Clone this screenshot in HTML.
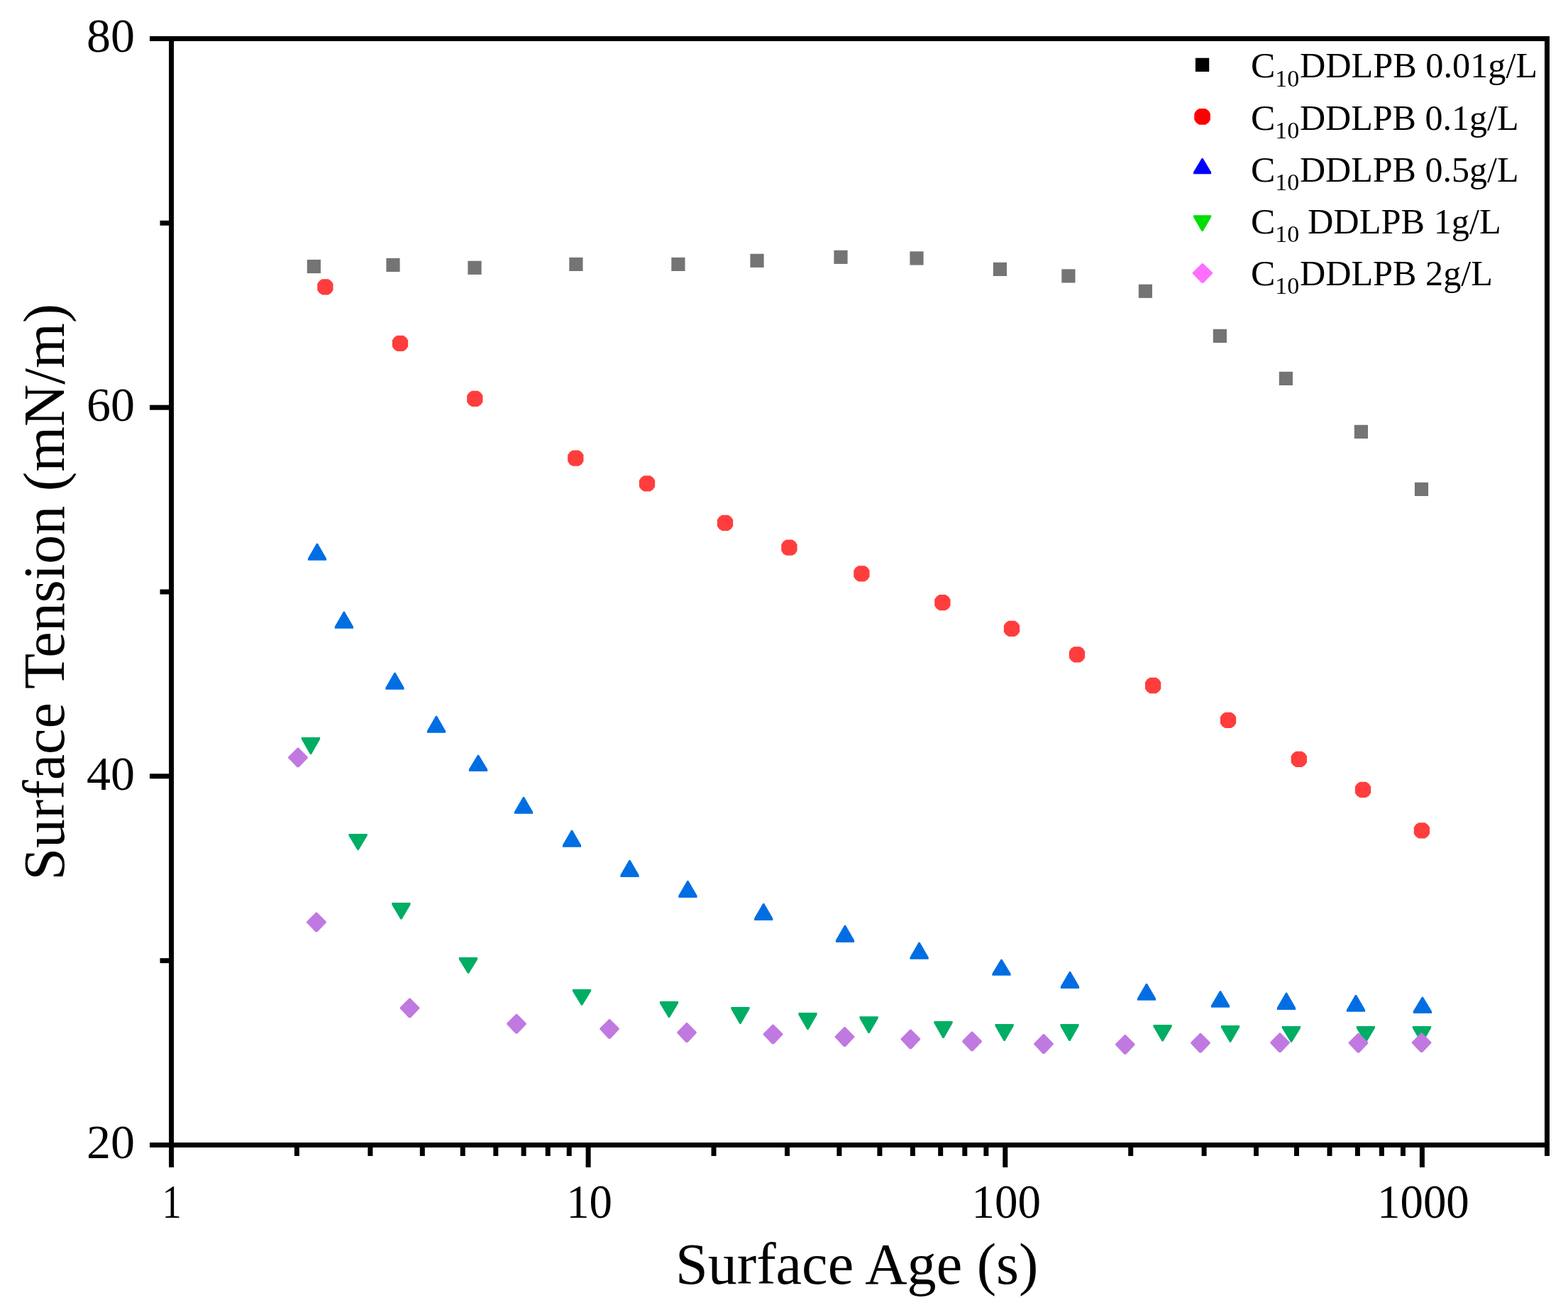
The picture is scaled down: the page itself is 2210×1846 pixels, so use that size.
<!DOCTYPE html>
<html><head><meta charset="utf-8"><title>Surface Tension vs Surface Age</title>
<style>html,body{margin:0;padding:0;background:#fff;}svg{display:block;}</style></head>
<body>
<svg width="2210" height="1846" viewBox="0 0 2210 1846">
<rect width="2210" height="1846" fill="#fff"/>
<g fill="#747474">
<rect x="432.8" y="365.9" width="19.2" height="19.2"/>
<rect x="544.4" y="363.8" width="19.2" height="19.2"/>
<rect x="659.4" y="367.7" width="19.2" height="19.2"/>
<rect x="802.3" y="362.8" width="19.2" height="19.2"/>
<rect x="946.3" y="362.8" width="19.2" height="19.2"/>
<rect x="1057.4" y="357.7" width="19.2" height="19.2"/>
<rect x="1175.4" y="352.7" width="19.2" height="19.2"/>
<rect x="1282.4" y="354.3" width="19.2" height="19.2"/>
<rect x="1399.8" y="369.8" width="19.2" height="19.2"/>
<rect x="1496.3" y="379.3" width="19.2" height="19.2"/>
<rect x="1604.8" y="400.7" width="19.2" height="19.2"/>
<rect x="1709.8" y="463.8" width="19.2" height="19.2"/>
<rect x="1802.8" y="523.8" width="19.2" height="19.2"/>
<rect x="1908.8" y="598.8" width="19.2" height="19.2"/>
<rect x="1993.9" y="679.8" width="19.2" height="19.2"/>
</g>
<g fill="#FF3D3D">
<path d="M462.79 393.25L466.84 395.96L469.55 400.01L469.55 408.79L466.84 412.84L462.79 415.55L454.01 415.55L449.96 412.84L447.25 408.79L447.25 400.01L449.96 395.96L454.01 393.25Z"/>
<path d="M568.39 472.75L572.44 475.46L575.15 479.51L575.15 488.29L572.44 492.34L568.39 495.05L559.61 495.05L555.56 492.34L552.85 488.29L552.85 479.51L555.56 475.46L559.61 472.75Z"/>
<path d="M673.69 550.75L677.74 553.46L680.45 557.51L680.45 566.29L677.74 570.34L673.69 573.05L664.91 573.05L660.86 570.34L658.15 566.29L658.15 557.51L660.86 553.46L664.91 550.75Z"/>
<path d="M815.69 634.55L819.74 637.26L822.45 641.31L822.45 650.09L819.74 654.14L815.69 656.85L806.91 656.85L802.86 654.14L800.15 650.09L800.15 641.31L802.86 637.26L806.91 634.55Z"/>
<path d="M916.39 670.25L920.44 672.96L923.15 677.01L923.15 685.79L920.44 689.84L916.39 692.55L907.61 692.55L903.56 689.84L900.85 685.79L900.85 677.01L903.56 672.96L907.61 670.25Z"/>
<path d="M1026.39 725.75L1030.44 728.46L1033.15 732.51L1033.15 741.29L1030.44 745.34L1026.39 748.05L1017.61 748.05L1013.56 745.34L1010.85 741.29L1010.85 732.51L1013.56 728.46L1017.61 725.75Z"/>
<path d="M1116.79 760.55L1120.84 763.26L1123.55 767.31L1123.55 776.09L1120.84 780.14L1116.79 782.85L1108.01 782.85L1103.96 780.14L1101.25 776.09L1101.25 767.31L1103.96 763.26L1108.01 760.55Z"/>
<path d="M1218.79 797.15L1222.84 799.86L1225.55 803.91L1225.55 812.69L1222.84 816.74L1218.79 819.45L1210.01 819.45L1205.96 816.74L1203.25 812.69L1203.25 803.91L1205.96 799.86L1210.01 797.15Z"/>
<path d="M1332.79 837.95L1336.84 840.66L1339.55 844.71L1339.55 853.49L1336.84 857.54L1332.79 860.25L1324.01 860.25L1319.96 857.54L1317.25 853.49L1317.25 844.71L1319.96 840.66L1324.01 837.95Z"/>
<path d="M1430.39 874.75L1434.44 877.46L1437.15 881.51L1437.15 890.29L1434.44 894.34L1430.39 897.05L1421.61 897.05L1417.56 894.34L1414.85 890.29L1414.85 881.51L1417.56 877.46L1421.61 874.75Z"/>
<path d="M1522.39 911.15L1526.44 913.86L1529.15 917.91L1529.15 926.69L1526.44 930.74L1522.39 933.45L1513.61 933.45L1509.56 930.74L1506.85 926.69L1506.85 917.91L1509.56 913.86L1513.61 911.15Z"/>
<path d="M1629.49 954.85L1633.54 957.56L1636.25 961.61L1636.25 970.39L1633.54 974.44L1629.49 977.15L1620.71 977.15L1616.66 974.44L1613.95 970.39L1613.95 961.61L1616.66 957.56L1620.71 954.85Z"/>
<path d="M1735.39 1003.75L1739.44 1006.46L1742.15 1010.51L1742.15 1019.29L1739.44 1023.34L1735.39 1026.05L1726.61 1026.05L1722.56 1023.34L1719.85 1019.29L1719.85 1010.51L1722.56 1006.46L1726.61 1003.75Z"/>
<path d="M1835.19 1058.75L1839.24 1061.46L1841.95 1065.51L1841.95 1074.29L1839.24 1078.34L1835.19 1081.05L1826.41 1081.05L1822.36 1078.34L1819.65 1074.29L1819.65 1065.51L1822.36 1061.46L1826.41 1058.75Z"/>
<path d="M1925.39 1101.75L1929.44 1104.46L1932.15 1108.51L1932.15 1117.29L1929.44 1121.34L1925.39 1124.05L1916.61 1124.05L1912.56 1121.34L1909.85 1117.29L1909.85 1108.51L1912.56 1104.46L1916.61 1101.75Z"/>
<path d="M2008.29 1159.25L2012.34 1161.96L2015.05 1166.01L2015.05 1174.79L2012.34 1178.84L2008.29 1181.55L1999.51 1181.55L1995.46 1178.84L1992.75 1174.79L1992.75 1166.01L1995.46 1161.96L1999.51 1159.25Z"/>
</g>
<g fill="#006EE2">
<path d="M446.1 765.8L447.9 765.8L460.1 787L460.1 789.8L433.9 789.8L433.9 787Z"/>
<path d="M484 861.8L485.8 861.8L498 883L498 885.8L471.8 885.8L471.8 883Z"/>
<path d="M555.6 947.8L557.4 947.8L569.6 969L569.6 971.8L543.4 971.8L543.4 969Z"/>
<path d="M614.1 1008.8L615.9 1008.8L628.1 1030L628.1 1032.8L601.9 1032.8L601.9 1030Z"/>
<path d="M673.1 1063.8L674.9 1063.8L687.1 1084.1L687.1 1086.9L660.9 1086.9L660.9 1084.1Z"/>
<path d="M737.1 1123L738.9 1123L751.1 1143.9L751.1 1146.7L724.9 1146.7L724.9 1143.9Z"/>
<path d="M805.1 1169.8L806.9 1169.8L819.1 1191L819.1 1193.8L792.9 1193.8L792.9 1191Z"/>
<path d="M886.6 1211.9L888.4 1211.9L900.6 1233.1L900.6 1235.9L874.4 1235.9L874.4 1233.1Z"/>
<path d="M968.5 1240.9L970.3 1240.9L982.5 1262.1L982.5 1264.9L956.3 1264.9L956.3 1262.1Z"/>
<path d="M1075.3 1273.1L1077.1 1273.1L1089.3 1294.1L1089.3 1296.9L1063.1 1296.9L1063.1 1294.1Z"/>
<path d="M1190.1 1303.7L1191.9 1303.7L1204.1 1325.1L1204.1 1327.9L1177.9 1327.9L1177.9 1325.1Z"/>
<path d="M1294.7 1327.7L1296.5 1327.7L1308.7 1348.9L1308.7 1351.7L1282.5 1351.7L1282.5 1348.9Z"/>
<path d="M1410.6 1351.7L1412.4 1351.7L1424.6 1372L1424.6 1374.8L1398.4 1374.8L1398.4 1372Z"/>
<path d="M1507.1 1369.1L1508.9 1369.1L1521.1 1390.1L1521.1 1392.9L1494.9 1392.9L1494.9 1390.1Z"/>
<path d="M1615.1 1386L1616.9 1386L1629.1 1407L1629.1 1409.8L1602.9 1409.8L1602.9 1407Z"/>
<path d="M1719.1 1396.2L1720.9 1396.2L1733.1 1417L1733.1 1419.8L1706.9 1419.8L1706.9 1417Z"/>
<path d="M1812.1 1398.8L1813.9 1398.8L1826.1 1420.1L1826.1 1422.9L1799.9 1422.9L1799.9 1420.1Z"/>
<path d="M1910.1 1401.9L1911.9 1401.9L1924.1 1422.9L1924.1 1425.7L1897.9 1425.7L1897.9 1422.9Z"/>
<path d="M2004 1404.8L2005.8 1404.8L2018 1425.1L2018 1427.9L1991.8 1427.9L1991.8 1425.1Z"/>
</g>
<g fill="#00AD65">
<path d="M424.9 1039L451.1 1039L451.1 1041.8L438.9 1063L437.1 1063L424.9 1041.8Z"/>
<path d="M491.5 1174.9L517.7 1174.9L517.7 1177.7L505.5 1198L503.7 1198L491.5 1177.7Z"/>
<path d="M552.3 1272.1L578.5 1272.1L578.5 1274.9L566.3 1295.6L564.5 1295.6L552.3 1274.9Z"/>
<path d="M646.9 1349.1L673.1 1349.1L673.1 1351.9L660.9 1371.7L659.1 1371.7L646.9 1351.9Z"/>
<path d="M806.9 1393.9L833.1 1393.9L833.1 1396.7L820.9 1416.8L819.1 1416.8L806.9 1396.7Z"/>
<path d="M929.9 1410.9L956.1 1410.9L956.1 1413.7L943.9 1433.9L942.1 1433.9L929.9 1413.7Z"/>
<path d="M1030.3 1419L1056.5 1419L1056.5 1421.8L1044.3 1442.9L1042.5 1442.9L1030.3 1421.8Z"/>
<path d="M1125.4 1427.1L1151.6 1427.1L1151.6 1429.9L1139.4 1450.9L1137.6 1450.9L1125.4 1429.9Z"/>
<path d="M1211.5 1432.2L1237.7 1432.2L1237.7 1435L1225.5 1455.9L1223.7 1455.9L1211.5 1435Z"/>
<path d="M1316.4 1439L1342.6 1439L1342.6 1441.8L1330.4 1463L1328.6 1463L1316.4 1441.8Z"/>
<path d="M1402.5 1442.9L1428.7 1442.9L1428.7 1445.7L1416.5 1466.9L1414.7 1466.9L1402.5 1445.7Z"/>
<path d="M1494.4 1442.9L1520.6 1442.9L1520.6 1445.7L1508.4 1466.9L1506.6 1466.9L1494.4 1445.7Z"/>
<path d="M1625.5 1444L1651.7 1444L1651.7 1446.8L1639.5 1467.6L1637.7 1467.6L1625.5 1446.8Z"/>
<path d="M1720.9 1445L1747.1 1445L1747.1 1447.8L1734.9 1468.8L1733.1 1468.8L1720.9 1447.8Z"/>
<path d="M1806.9 1446L1833.1 1446L1833.1 1448.8L1820.9 1468.8L1819.1 1468.8L1806.9 1448.8Z"/>
<path d="M1911.8 1446L1938 1446L1938 1448.8L1925.8 1469L1924 1469L1911.8 1448.8Z"/>
<path d="M1990.9 1446L2017.1 1446L2017.1 1448.8L2004.9 1470L2003.1 1470L1990.9 1448.8Z"/>
</g>
<g fill="#C079E0">
<path d="M419.3 1053.5L420.7 1053.5L433.7 1066.6L433.7 1068.2L421.4 1081.3L418.6 1081.3L406.3 1068.2L406.3 1066.6Z"/>
<path d="M445.3 1285.5L446.7 1285.5L459.7 1298.6L459.7 1300.2L447.4 1313.3L444.6 1313.3L432.3 1300.2L432.3 1298.6Z"/>
<path d="M576.8 1406.5L578.2 1406.5L591.2 1419.6L591.2 1421.2L578.9 1434.3L576.1 1434.3L563.8 1421.2L563.8 1419.6Z"/>
<path d="M727.3 1428.7L728.7 1428.7L741.7 1441.8L741.7 1443.4L729.4 1456.5L726.6 1456.5L714.3 1443.4L714.3 1441.8Z"/>
<path d="M858.3 1435.9L859.7 1435.9L872.7 1449L872.7 1450.6L860.4 1463.7L857.6 1463.7L845.3 1450.6L845.3 1449Z"/>
<path d="M967.3 1441.1L968.7 1441.1L981.7 1454.2L981.7 1455.8L969.4 1468.9L966.6 1468.9L954.3 1455.8L954.3 1454.2Z"/>
<path d="M1088.8 1443.5L1090.2 1443.5L1103.2 1456.6L1103.2 1458.2L1090.9 1471.3L1088.1 1471.3L1075.8 1458.2L1075.8 1456.6Z"/>
<path d="M1189.8 1447.1L1191.2 1447.1L1204.2 1460.2L1204.2 1461.8L1191.9 1474.9L1189.1 1474.9L1176.8 1461.8L1176.8 1460.2Z"/>
<path d="M1282.7 1450.4L1284.1 1450.4L1297.1 1463.5L1297.1 1465.1L1284.8 1478.2L1282 1478.2L1269.7 1465.1L1269.7 1463.5Z"/>
<path d="M1369.3 1453.5L1370.7 1453.5L1383.7 1466.6L1383.7 1468.2L1371.4 1481.3L1368.6 1481.3L1356.3 1468.2L1356.3 1466.6Z"/>
<path d="M1470.3 1457.1L1471.7 1457.1L1484.7 1470.2L1484.7 1471.8L1472.4 1484.9L1469.6 1484.9L1457.3 1471.8L1457.3 1470.2Z"/>
<path d="M1585.1 1457.9L1586.5 1457.9L1599.5 1471L1599.5 1472.6L1587.2 1485.7L1584.4 1485.7L1572.1 1472.6L1572.1 1471Z"/>
<path d="M1691.3 1455.7L1692.7 1455.7L1705.7 1468.8L1705.7 1470.4L1693.4 1483.5L1690.6 1483.5L1678.3 1470.4L1678.3 1468.8Z"/>
<path d="M1803.3 1455.3L1804.7 1455.3L1817.7 1468.4L1817.7 1470L1805.4 1483.1L1802.6 1483.1L1790.3 1470L1790.3 1468.4Z"/>
<path d="M1913.8 1455.7L1915.2 1455.7L1928.2 1468.8L1928.2 1470.4L1915.9 1483.5L1913.1 1483.5L1900.8 1470.4L1900.8 1468.8Z"/>
<path d="M2002.9 1455.3L2004.3 1455.3L2017.3 1468.4L2017.3 1470L2005 1483.1L2002.2 1483.1L1989.9 1470L1989.9 1468.4Z"/>
</g>
<g fill="#000">
<rect x="238" y="51" width="1946" height="7"/>
<rect x="238" y="1610" width="1946" height="7"/>
<rect x="238" y="51" width="7" height="1566"/>
<rect x="2177" y="51" width="7" height="1566"/>
<rect x="211" y="51.0" width="27" height="7"/>
<rect x="211" y="570.7" width="27" height="7"/>
<rect x="211" y="1090.3" width="27" height="7"/>
<rect x="211" y="1610.0" width="27" height="7"/>
<rect x="225.5" y="310.8" width="12.5" height="7"/>
<rect x="225.5" y="830.5" width="12.5" height="7"/>
<rect x="225.5" y="1350.2" width="12.5" height="7"/>
<rect x="238.0" y="1617" width="7" height="28"/>
<rect x="825.6" y="1617" width="7" height="28"/>
<rect x="1413.3" y="1617" width="7" height="28"/>
<rect x="2000.9" y="1617" width="7" height="28"/>
<rect x="414.9" y="1617" width="7" height="12"/>
<rect x="518.4" y="1617" width="7" height="12"/>
<rect x="591.8" y="1617" width="7" height="12"/>
<rect x="648.7" y="1617" width="7" height="12"/>
<rect x="695.3" y="1617" width="7" height="12"/>
<rect x="734.6" y="1617" width="7" height="12"/>
<rect x="768.7" y="1617" width="7" height="12"/>
<rect x="798.7" y="1617" width="7" height="12"/>
<rect x="1002.5" y="1617" width="7" height="12"/>
<rect x="1106.0" y="1617" width="7" height="12"/>
<rect x="1179.4" y="1617" width="7" height="12"/>
<rect x="1236.4" y="1617" width="7" height="12"/>
<rect x="1282.9" y="1617" width="7" height="12"/>
<rect x="1322.2" y="1617" width="7" height="12"/>
<rect x="1356.3" y="1617" width="7" height="12"/>
<rect x="1386.4" y="1617" width="7" height="12"/>
<rect x="1590.2" y="1617" width="7" height="12"/>
<rect x="1693.6" y="1617" width="7" height="12"/>
<rect x="1767.0" y="1617" width="7" height="12"/>
<rect x="1824.0" y="1617" width="7" height="12"/>
<rect x="1870.5" y="1617" width="7" height="12"/>
<rect x="1909.9" y="1617" width="7" height="12"/>
<rect x="1943.9" y="1617" width="7" height="12"/>
<rect x="1974.0" y="1617" width="7" height="12"/>
<rect x="2177.0" y="1617" width="7" height="12"/>
</g>
<g font-family="&apos;Liberation Serif&apos;, &apos;Times New Roman&apos;, serif" font-size="68" text-anchor="end">
<text x="190" y="73.3">80</text>
<text x="190" y="593.0">60</text>
<text x="190" y="1112.6">40</text>
<text x="190" y="1632.3">20</text>
</g>
<g font-family="&apos;Liberation Serif&apos;, &apos;Times New Roman&apos;, serif" font-size="68" text-anchor="middle">
<text x="242.1" y="1716" textLength="27.2" lengthAdjust="spacingAndGlyphs">1</text>
<text x="830.6" y="1716" textLength="64.9" lengthAdjust="spacingAndGlyphs">10</text>
<text x="1418.3" y="1716" textLength="97.4" lengthAdjust="spacingAndGlyphs">100</text>
<text x="2005.9" y="1716" textLength="129.9" lengthAdjust="spacingAndGlyphs">1000</text>
</g>
<text font-family="&apos;Liberation Serif&apos;, &apos;Times New Roman&apos;, serif" font-size="82" x="957.5" y="1808.5" textLength="511.5" lengthAdjust="spacingAndGlyphs" transform="translate(-5.5 0)">Surface Age (s)</text>
<text font-family="&apos;Liberation Serif&apos;, &apos;Times New Roman&apos;, serif" font-size="82" transform="translate(90 1235) rotate(-90)" x="-5.5" y="0">Surface Tension (mN/m)</text>
<rect x="1684.9" y="81.7" width="19.3" height="19.3" fill="#000"/>
<text font-family="&apos;Liberation Serif&apos;, &apos;Times New Roman&apos;, serif" font-size="51.5" x="1763.1" y="109.4"><tspan>C</tspan><tspan x="1797.2" y="121.9" font-size="34">10</tspan><tspan x="1831.9" y="109.4" textLength="335.2" lengthAdjust="spacingAndGlyphs">DDLPB 0.01g/L</tspan></text>
<path d="M1699.05 153.1L1703.15 155.85L1705.9 159.95L1705.9 168.85L1703.15 172.95L1699.05 175.7L1690.15 175.7L1686.05 172.95L1683.3 168.85L1683.3 159.95L1686.05 155.85L1690.15 153.1Z" fill="#FF0000"/>
<text font-family="&apos;Liberation Serif&apos;, &apos;Times New Roman&apos;, serif" font-size="51.5" x="1763.1" y="182.5"><tspan>C</tspan><tspan x="1797.2" y="195.0" font-size="34">10</tspan><tspan x="1831.9" y="182.5" textLength="308.7" lengthAdjust="spacingAndGlyphs">DDLPB 0.1g/L</tspan></text>
<path d="M1693.7 222.9L1695.5 222.9L1707.1 242.4L1707.1 245.2L1682.1 245.2L1682.1 242.4Z" fill="#0000FF"/>
<text font-family="&apos;Liberation Serif&apos;, &apos;Times New Roman&apos;, serif" font-size="51.5" x="1763.1" y="255.6"><tspan>C</tspan><tspan x="1797.2" y="268.1" font-size="34">10</tspan><tspan x="1831.9" y="255.6" textLength="308.7" lengthAdjust="spacingAndGlyphs">DDLPB 0.5g/L</tspan></text>
<path d="M1682.1 303.3L1707.1 303.3L1707.1 306.1L1695.5 325.9L1693.7 325.9L1682.1 306.1Z" fill="#00DD00"/>
<text font-family="&apos;Liberation Serif&apos;, &apos;Times New Roman&apos;, serif" font-size="51.5" x="1763.1" y="328.7"><tspan>C</tspan><tspan x="1797.2" y="341.2" font-size="34">10 </tspan><tspan x="1843.0" y="328.7" textLength="272.8" lengthAdjust="spacingAndGlyphs">DDLPB 1g/L</tspan></text>
<path d="M1694.2 370.9L1695.6 370.9L1709 384L1709 385.6L1696.3 398.7L1693.5 398.7L1680.8 385.6L1680.8 384Z" fill="#FF6EFF"/>
<text font-family="&apos;Liberation Serif&apos;, &apos;Times New Roman&apos;, serif" font-size="51.5" x="1763.1" y="401.8"><tspan>C</tspan><tspan x="1797.2" y="414.3" font-size="34">10</tspan><tspan x="1831.9" y="401.8" textLength="272.0" lengthAdjust="spacingAndGlyphs">DDLPB 2g/L</tspan></text>
</svg>
</body></html>
